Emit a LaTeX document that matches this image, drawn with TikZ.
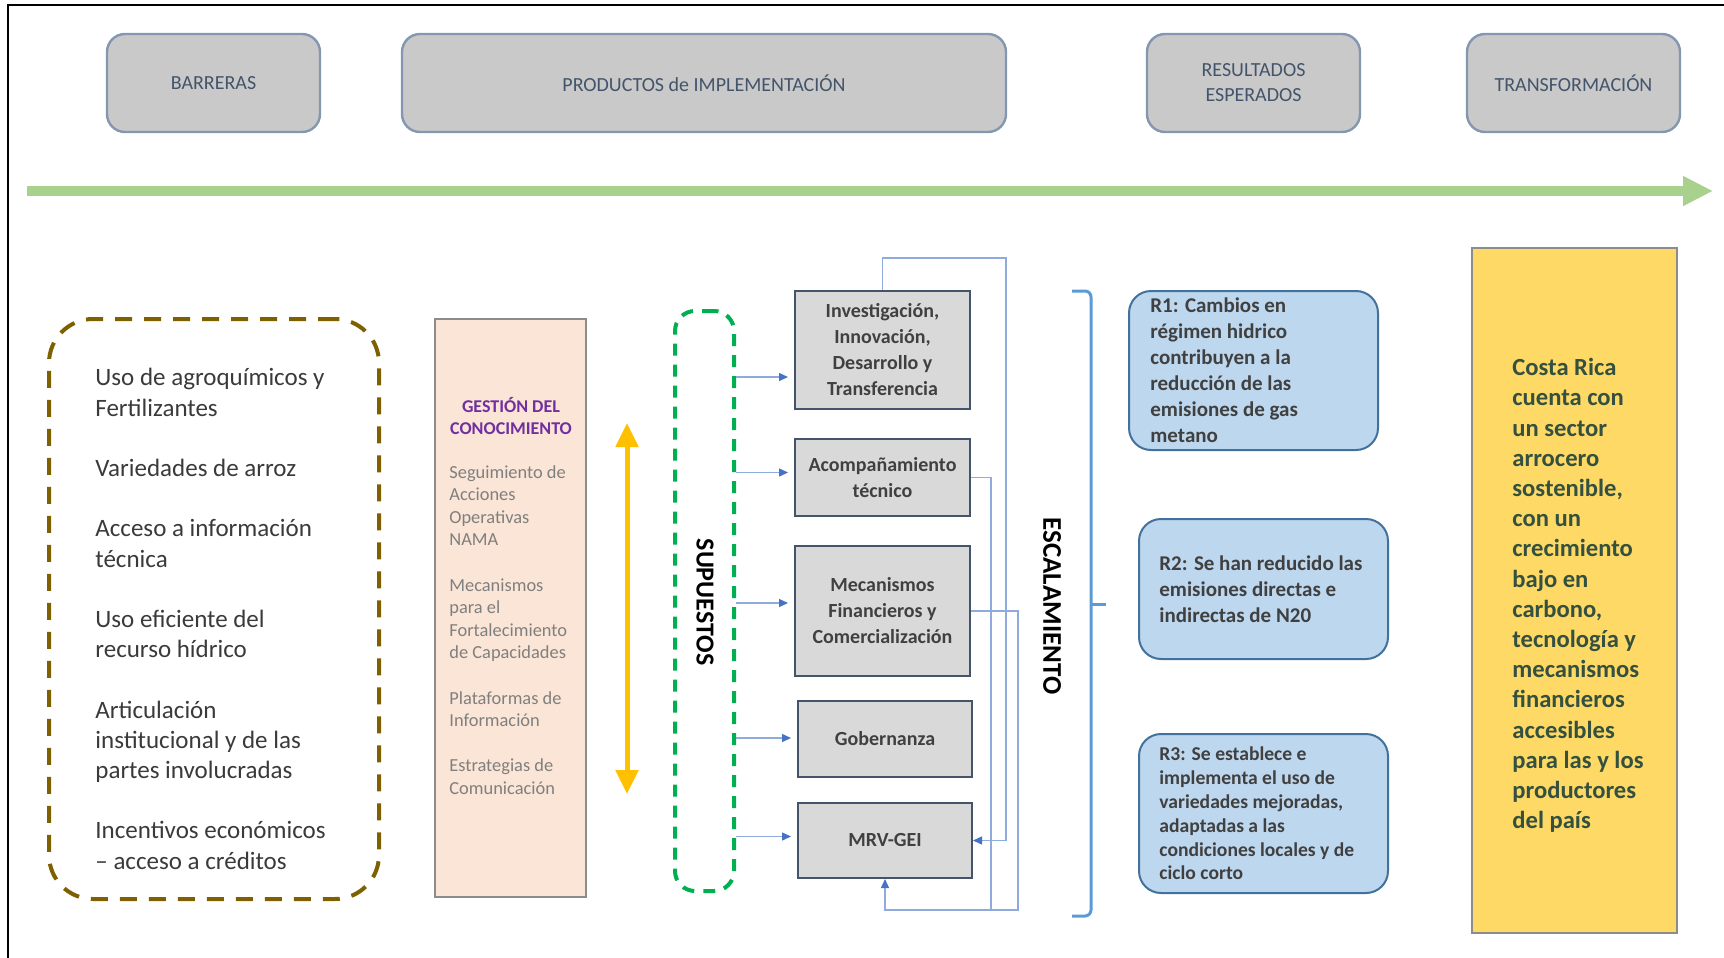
\documentclass[tikz,border=0pt]{standalone}
\usepackage{fontspec}
\setmainfont{Carlito}
\usetikzlibrary{arrows.meta}
\definecolor{hdrfill}{HTML}{C9C9C9}
\definecolor{hdrdraw}{HTML}{8497B0}
\definecolor{hdrtext}{HTML}{44546A}
\definecolor{tlgreen}{HTML}{A9D18E}
\definecolor{barrdash}{HTML}{7F6000}
\definecolor{peach}{HTML}{FBE5D6}
\definecolor{purp}{HTML}{7030A0}
\definecolor{gtext}{HTML}{7F7F7F}
\definecolor{orng}{HTML}{FFC000}
\definecolor{supgreen}{HTML}{00B050}
\definecolor{prodfill}{HTML}{D9D9D9}
\definecolor{proddraw}{HTML}{44546A}
\definecolor{conn}{HTML}{8FAADC}
\definecolor{connhead}{HTML}{4472C4}
\definecolor{brk}{HTML}{5B9BD5}
\definecolor{rfill}{HTML}{BDD7EE}
\definecolor{rdraw}{HTML}{41719C}
\definecolor{crfill}{HTML}{FFD966}
\definecolor{crtext}{HTML}{34503F}
\definecolor{dtext}{HTML}{404040}
\begin{document}
\begin{tikzpicture}[x=0.5pt,y=-0.5pt,
  hdr/.style={draw=hdrdraw, line width=1.2pt, fill=hdrfill, rounded corners=9pt,
    text=hdrtext, font=\fontsize{10}{12.5}\selectfont, align=center,
    minimum height=49pt, minimum width=106.5pt, inner sep=0pt},
  prodbox/.style={draw=proddraw, line width=1pt, fill=prodfill, text=dtext,
    font=\bfseries\fontsize{10}{13}\selectfont, align=center, inner sep=0pt,
    minimum width=87.5pt},
  rbox/.style={draw=rdraw, line width=1pt, fill=rfill, rounded corners=11pt,
    minimum width=124.5pt, inner sep=0pt},
  rtext/.style={text=dtext, font=\bfseries\fontsize{10.5}{13}\selectfont,
    align=left, anchor=west, inner sep=0pt},
  sarrow/.style={draw=conn, line width=0.7pt, shorten >=3pt,
    -{Triangle[length=4.5pt,width=4pt,color=connhead]}},
  feed/.style={draw=conn, line width=0.7pt},
  feedarrow/.style={feed, -{Triangle[length=4.5pt,width=4pt,color=connhead]}},
  vlabel/.style={font=\bfseries\fontsize{13}{15}\selectfont, rotate=-90, inner sep=0pt}
]
\useasboundingbox (0,0) rectangle (1724,958);

% frame
\coordinate (fr1) at (8,958);
\coordinate (fr2) at (8,5);
\coordinate (fr3) at (1724,5);
\draw[line width=1.2pt] (fr1) -- (fr2) -- (fr3);

% headers
\node[hdr] (hbar) at (213.5,83) {BARRERAS};
\node[hdr, minimum width=302pt] (hprod) at (704,83) {PRODUCTOS de IMPLEMENTACIÓN};
\node[hdr] (hres) at (1253.5,83) {RESULTADOS\\ESPERADOS};
\node[hdr] (htrans) at (1573.5,83) {TRANSFORMACIÓN};

% timeline
\coordinate (tl1) at (27,191);
\coordinate (tl2) at (1713,191);
\draw[tlgreen, line width=5pt, -{Triangle[length=15pt,width=14pt]}] (tl1) -- (tl2);

% barreras
\node[draw=barrdash, line width=2pt, dash pattern=on 8.5pt off 6pt,
  rounded corners=22pt, minimum width=165pt, minimum height=290pt, inner sep=0pt]
  (barr) at (214,609) {};
\node[anchor=west, align=left, inner sep=0pt, text=dtext!90!black,
  font=\fontsize{12.5}{15.1}\selectfont] (barrt) at (95,619)
  {Uso de agroquímicos y\\Fertilizantes\\[15.1pt]
   Variedades de arroz\\[15.1pt]
   Acceso a información\\técnica\\[15.1pt]
   Uso eficiente del\\recurso hídrico\\[15.1pt]
   Articulación\\institucional y de las\\partes involucradas\\[15.1pt]
   Incentivos económicos\\– acceso a créditos};

% gestion del conocimiento
\node[draw=black!45, line width=1pt, fill=peach, minimum width=75.5pt,
  minimum height=289pt, inner sep=0pt] (gest) at (510.5,608) {};
\node[text=purp, font=\bfseries\fontsize{9}{11.2}\selectfont, align=center,
  inner sep=0pt] (gestt) at (511,416) {GESTIÓN DEL\\CONOCIMIENTO};
\node[anchor=west, align=left, inner sep=0pt, text=gtext,
  font=\fontsize{9.2}{11.3}\selectfont] (gestb) at (449,630)
  {Seguimiento de\\Acciones\\Operativas\\NAMA\\[11.3pt]
   Mecanismos\\para el\\Fortalecimiento\\de Capacidades\\[11.3pt]
   Plataformas de\\Información\\[11.3pt]
   Estrategias de\\Comunicación};

% orange double arrow
\coordinate (oa1) at (627,423);
\coordinate (oa2) at (627,794);
\draw[orng, line width=2.5pt, {Triangle[length=12pt,width=11pt]}-{Triangle[length=12pt,width=11pt]}] (oa1) -- (oa2);

% supuestos
\node[draw=supgreen, line width=2pt, dash pattern=on 6pt off 4.5pt,
  rounded corners=10pt, minimum width=29.5pt, minimum height=290pt, inner sep=0pt]
  (supu) at (704.5,601) {};
\node[vlabel] (supt) at (705,602) {SUPUESTOS};

% product boxes
\node[prodbox, minimum height=59pt] (inv) at (882.5,350)
  {Investigación,\\Innovación,\\Desarrollo y\\Transferencia};
\node[prodbox, minimum height=38.5pt] (acomp) at (882.5,477.5)
  {Acompañamiento\\técnico};
\node[prodbox, minimum height=65pt] (mecan) at (882.5,611)
  {Mecanismos\\Financieros y\\Comercialización};
\node[prodbox, minimum width=87pt, minimum height=38pt] (gob) at (885,739) {Gobernanza};
\node[prodbox, minimum width=87pt, minimum height=37.5pt] (mrv) at (885,840.5) {MRV-GEI};

% arrows from supuestos
\coordinate (a1) at ([yshift=-13.5pt]inv.west);
\coordinate (a2) at ([yshift=2.5pt]acomp.west);
\coordinate (a3) at ([yshift=4pt]mecan.west);
\coordinate (a4) at ([yshift=0.5pt]gob.west);
\coordinate (a5) at ([yshift=2pt]mrv.west);
\foreach \c in {a1,a2,a3,a4,a5}{
  \draw[sarrow] (supu.east |- \c) -- (\c);
}

% feedback connectors
\draw[feedarrow] (inv.north) -- ++(0,-32) -- ++(123.5,0) |- (mrv.east);
\coordinate (fba) at (991,910);
\coordinate (fbb) at (1018,910);
\draw[feed] (acomp.east) -| (fba);
\draw[feedarrow] (mecan.east) -| (fbb) -| (mrv.south);

% escalamiento
\node[vlabel, font=\bfseries\fontsize{13.5}{15}\selectfont] (esc) at (1052,606) {ESCALAMIENTO};
\coordinate (bk1) at (1072,291);
\coordinate (bk2) at (1091,291);
\coordinate (bk3) at (1091,916);
\coordinate (bk4) at (1072,916);
\coordinate (bk5) at (1091,604);
\coordinate (bk6) at (1106,604);
\draw[brk, line width=1.5pt, rounded corners=3pt] (bk1) -- (bk2) -- (bk3) -- (bk4);
\draw[brk, line width=1.5pt] (bk5) -- (bk6);

% resultados
\node[rbox, minimum height=79.5pt] (r1) at (1253.5,370.5) {};
\node[rtext] (r1t) at ([xshift=11pt]r1.west)
  {R1: Cambios en\\régimen hidrico\\contribuyen a la\\reducción de las\\emisiones de gas\\metano};
\node[rbox, minimum height=70pt] (r2) at (1263.5,589) {};
\node[rtext] (r2t) at ([xshift=10.5pt]r2.west)
  {R2: Se han reducido las\\emisiones directas e\\indirectas de N20};
\node[rbox, minimum height=79.5pt] (r3) at (1263.5,813.5) {};
\node[rtext, font=\bfseries\fontsize{9.8}{11.9}\selectfont] (r3t) at ([xshift=10.5pt]r3.west)
  {R3: Se establece e\\implementa el uso de\\variedades mejoradas,\\adaptadas a las\\condiciones locales y de\\ciclo corto};

% transformacion
\node[draw=black!45, line width=1pt, fill=crfill, minimum width=102.5pt,
  minimum height=342.5pt, inner sep=0pt] (cr) at (1574.5,590.5) {};
\node[anchor=west, align=left, inner sep=0pt, text=crtext,
  font=\bfseries\fontsize{12.3}{15.1}\selectfont] (crt) at (1512,595.5)
  {Costa Rica\\cuenta con\\un sector\\arrocero\\sostenible,\\con un\\crecimiento\\bajo en\\carbono,\\tecnología y\\mecanismos\\financieros\\accesibles\\para las y los\\productores\\del país};
\end{tikzpicture}
\end{document}
